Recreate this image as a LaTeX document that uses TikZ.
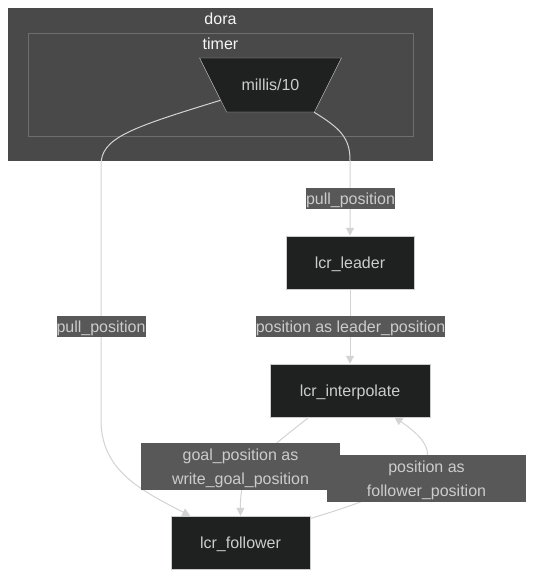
\documentclass[tikz,border=0pt]{standalone}
\usepackage{fontspec}
\setmainfont{Liberation Sans}
\usetikzlibrary{arrows.meta,shapes.geometric}

\definecolor{clusterbg}{HTML}{494949}
\definecolor{clusterline}{HTML}{6E6E6E}
\definecolor{nodebg}{HTML}{1F2020}
\definecolor{nodeline}{HTML}{CCCCCC}
\definecolor{labelbg}{HTML}{585858}
\definecolor{edgecol}{HTML}{D3D3D3}
\definecolor{textcol}{HTML}{CCCCCC}

\begin{document}
\begin{tikzpicture}[x=1pt, y=-1pt, >={Triangle[length=8pt,width=8pt]},
    every node/.style={font=\fontsize{16}{24}\selectfont},
    box/.style={draw=nodeline, fill=nodebg, text=textcol, inner sep=0pt, minimum height=53pt,
                text height=11.5pt, text depth=0.5pt},
    lbl/.style={fill=labelbg, text=textcol, inner sep=0pt, minimum height=21pt, align=center,
                text depth=0.5pt},
    edge/.style={draw=edgecol, line width=1pt, ->}]
  \useasboundingbox (0,0) rectangle (535,578);
  % clusters
  \fill[clusterbg] (8,8) rectangle (433,161);
  \draw[fill=clusterbg, draw=clusterline] (28,33) rectangle (413,136);
  \node[text=gray!8] (dora) at (220.5,19) {dora};
  \node[text=gray!8] (timer) at (220.5,44) {timer};

  \node[box, trapezium, shape border rotate=180, trapezium angle=63.4,
        minimum height=0pt, inner xsep=15pt, inner ysep=21pt] (mil) at (270.5,85) {millis/10};
  \node[box, minimum width=128pt] (lead) at (350,262.5) {lcr\_leader};
  \node[box, minimum width=160pt] (intp) at (350,390.5) {lcr\_interpolate};
  \node[box, minimum width=139pt] (fol) at (240.5,542.5) {lcr\_follower};

  % edges
  \draw[edge] (mil.197) .. controls (130,128) and (101,138) .. (101,165)
      -- (101,420) .. controls (101,470) and (140,490) .. (fol.152);
  \draw[edge] (mil.-32) .. controls (340,128) and (350,138) .. (350,160) -- (lead.north);
  \draw[edge] (lead.south) -- (intp.north);
  \draw[edge] (intp.213) .. controls (255,460) and (240,470) .. (fol.north);
  \draw[edge] (fol.19) .. controls (400,492) and (432,470) .. (427,450)
      .. controls (424,438) and (410,428) .. (intp.-31);

  % edge labels
  \node[lbl, minimum width=89pt, text height=11.5pt] (pullL) at (101,326.5) {pull\_position};
  \node[lbl, minimum width=89pt, text height=11.5pt] (pullR) at (350.5,198.5) {pull\_position};
  \node[lbl, minimum width=189pt, text height=11.5pt] (lead2int) at (350.5,326.5) {position as leader\_position};
  \node[lbl, minimum width=199pt, minimum height=47pt] (int2fol) at (240.5,466.5) {goal\_position as\\write\_goal\_position};
  \node[lbl, minimum width=199pt, minimum height=47pt] (fol2int) at (426.5,478.5) {position as\\follower\_position};
\end{tikzpicture}
\end{document}
